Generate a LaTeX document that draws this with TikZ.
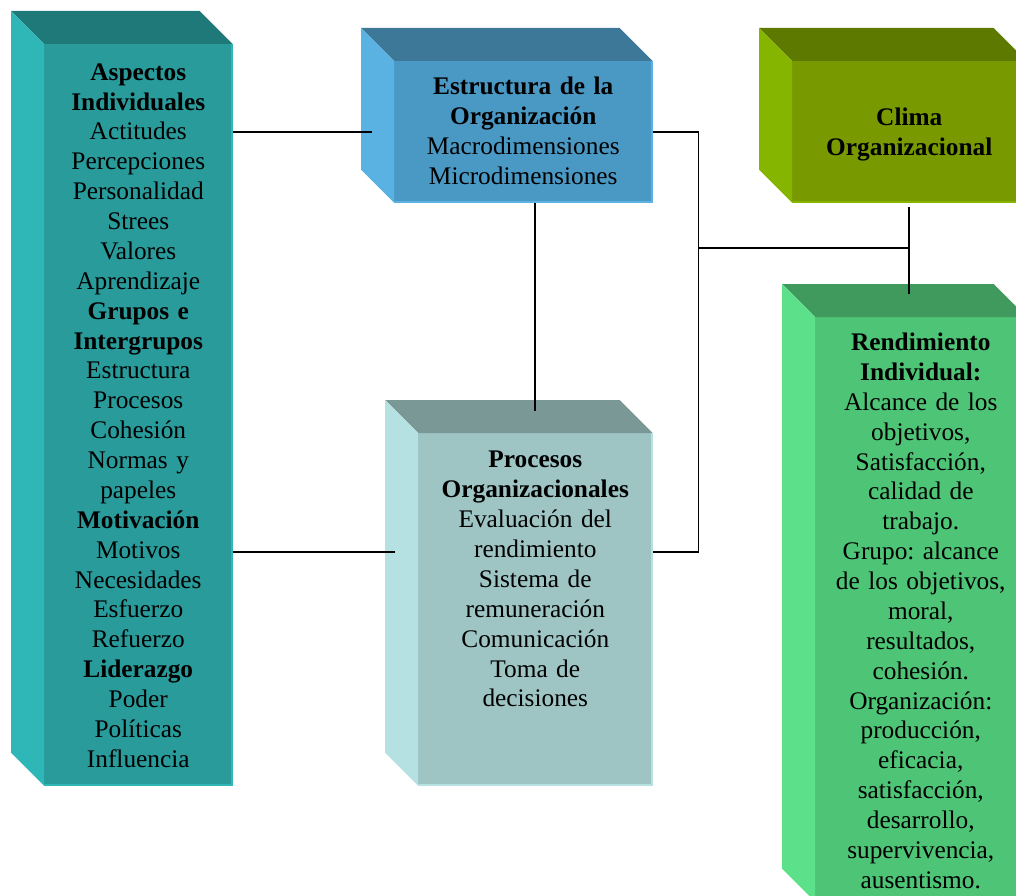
\documentclass[tikz,border=0pt]{standalone}
\usepackage{fontspec}
\setmainfont{Liberation Serif}
\frenchspacing
\usetikzlibrary{calc}

\definecolor{aspF}{RGB}{41,155,155}
\definecolor{aspT}{RGB}{31,121,120}
\definecolor{aspS}{RGB}{47,182,182}
\definecolor{estF}{RGB}{74,153,197}
\definecolor{estT}{RGB}{62,120,152}
\definecolor{estS}{RGB}{89,178,225}
\definecolor{cliF}{RGB}{120,154,0}
\definecolor{cliT}{RGB}{93,121,0}
\definecolor{cliS}{RGB}{134,181,0}
\definecolor{proF}{RGB}{158,196,196}
\definecolor{proT}{RGB}{122,152,150}
\definecolor{proS}{RGB}{181,225,226}
\definecolor{renF}{RGB}{78,196,118}
\definecolor{renT}{RGB}{64,153,93}
\definecolor{renS}{RGB}{92,224,137}

\tikzset{
  caja/.style={inner sep=0pt, align=center, anchor=north west,
    font=\fontsize{19}{22.4}\selectfont},
  linea/.style={line width=1.3pt}
}

% top face and left face of a box, behind its front node
\newcommand{\caras}[3]{
  \fill[#2] (#1.north west) -- ++(-33,-33) -- ($(#1.north east)+(-33,-33)$) -- (#1.north east) -- cycle;
  \fill[#3] (#1.north west) -- ++(-33,-33) -- ($(#1.south west)+(-33,-33)$) -- (#1.south west) -- cycle;
  \draw[#3, line width=1.4pt] ([xshift=-0.7pt]#1.north east) -- ([shift={(-0.7pt,0.7pt)}]#1.south east) -- ([yshift=0.7pt]#1.south west);
}

\begin{document}
\begin{tikzpicture}[x=0.75pt,y=-0.75pt]
\useasboundingbox (0,0) rectangle (1016,895);
\clip (0,0) rectangle (1016,895);

\node[caja, fill=aspF, text width=141pt, text height=27pt, text depth=528.75pt] (asp) at (44,44)
  {\textbf{Aspectos}\\\textbf{Individuales}\\Actitudes\\Percepciones\\Personalidad\\Strees\\Valores\\Aprendizaje\\\textbf{Grupos e}\\\textbf{Intergrupos}\\Estructura\\Procesos\\Cohesión\\Normas y\\papeles\\\textbf{Motivación}\\Motivos\\Necesidades\\Esfuerzo\\Refuerzo\\\textbf{Liderazgo}\\Poder\\Políticas\\Influencia};
\node[caja, fill=estF, text width=193.5pt, text height=25pt, text depth=80.75pt] (est) at (394,61)
  {\textbf{Estructura de la}\\\textbf{Organización}\\Macrodimensiones\\Microdimensiones};
\node[caja, fill=cliF, text width=175.5pt, text height=48pt, text depth=57.75pt] (cli) at (792,61)
  {\textbf{Clima}\\\textbf{Organizacional}};
\node[caja, fill=proF, text width=175.5pt, text height=26pt, text depth=238pt] (pro) at (418,433)
  {\textbf{Procesos}\\\textbf{Organizacionales}\\Evaluación del\\rendimiento\\Sistema de\\remuneración\\Comunicación\\Toma de\\decisiones};
\node[caja, fill=renF, text width=158.25pt, text height=25pt, text depth=413pt] (ren) at (815,317)
  {\textbf{Rendimiento}\\\textbf{Individual:}\\Alcance de los\\objetivos,\\Satisfacción,\\calidad de\\trabajo.\\Grupo: alcance\\de los objetivos,\\moral,\\resultados,\\cohesión.\\Organización:\\producción,\\eficacia,\\satisfacción,\\desarrollo,\\supervivencia,\\ausentismo.};

\caras{asp}{aspT}{aspS}
\caras{est}{estT}{estS}
\caras{cli}{cliT}{cliS}
\caras{pro}{proT}{proS}
\caras{ren}{renT}{renS}

% connectors
\coordinate (pro-l) at ($(pro.west)+(-23,-57)$);
\coordinate (pro-r) at ($(pro.east)+(0,-57)$);
\coordinate (bus) at ($(est.east)+(46,116)$);

\draw[linea] (asp.east |- est.west) -- ($(est.west)+(-22,0)$);
\draw[linea] (asp.east |- pro-l) -- (pro-l);
\draw[linea] (pro.north |- est.south) -- ($(pro.north)+(0,-22)$);
\draw[linea] (est.east) -| (bus) |- (pro-r);
\draw[linea] (bus) -- (cli.south |- bus);
\draw[linea, shorten <=3pt] (cli.south) -- ($(cli.south |- ren.north)+(0,-23)$);
\end{tikzpicture}
\end{document}
